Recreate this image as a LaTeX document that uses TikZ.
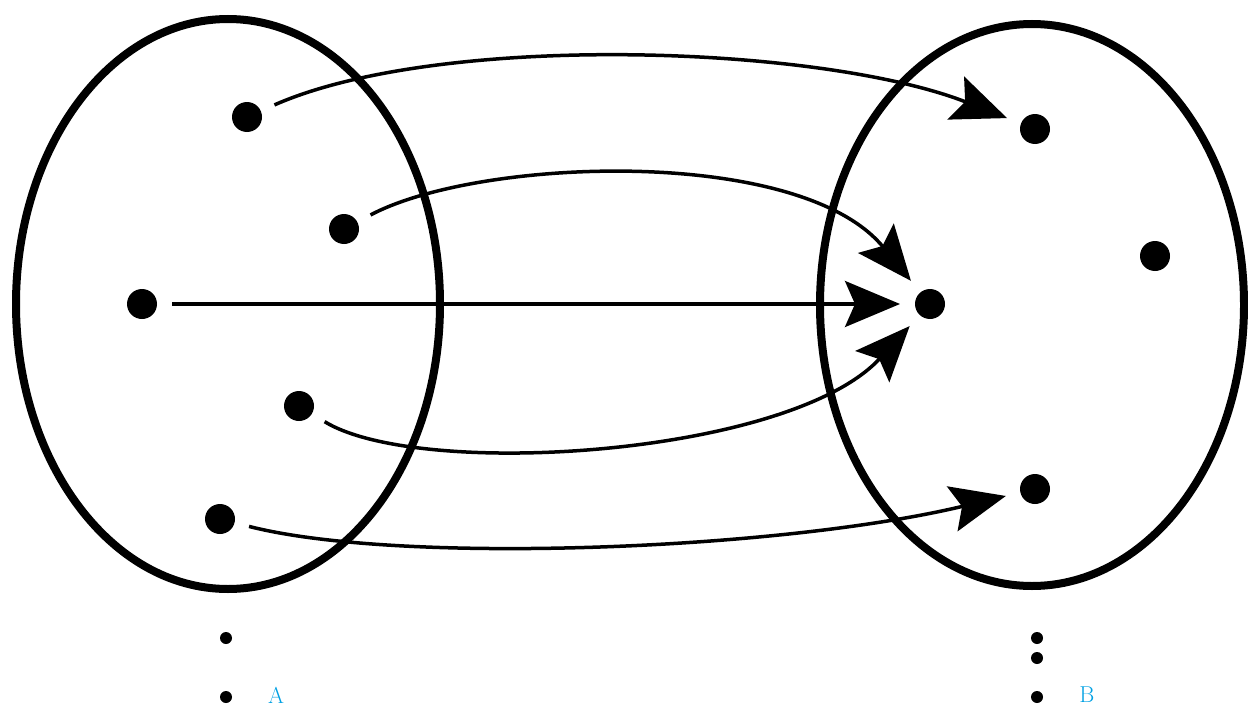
\documentclass[tikz,border=0pt]{standalone}
\usetikzlibrary{arrows.meta}
\definecolor{labcyan}{RGB}{0,160,227}
\begin{document}
\begin{tikzpicture}[x=1pt,y=-1pt,
  dot/.style={circle,fill=black,inner sep=0pt,minimum size=30pt,outer sep=15pt},
  sdot/.style={circle,fill=black,inner sep=0pt,minimum size=12pt},
  setline/.style={line width=8pt},
  map/.style={line width=3.5pt,-{Stealth[length=55pt,width=46pt,inset=10pt]}},
  lab/.style={text=labcyan,font=\fontsize{23}{23}\selectfont,inner sep=0pt}]
\useasboundingbox (0,0) rectangle (1248,717);
% sets
\draw[setline] (228,304) ellipse [x radius=212pt, y radius=285pt];
\draw[setline] (1032,305) ellipse [x radius=212pt, y radius=281pt];
% elements of A
\node[dot] (a1) at (247,117) {};
\node[dot] (a2) at (344,229) {};
\node[dot] (a3) at (142,304) {};
\node[dot] (a4) at (299,406) {};
\node[dot] (a5) at (220,519) {};
% elements of B
\node[dot] (b1) at (1035,129) {};
\node[dot] (b2) at (1155,256) {};
\node[dot] (b3) at (930,304) {};
\node[dot] (b4) at (1035,489) {};
% mappings
\draw[map] (a1) .. controls (440,32) and (820,45) .. (b1);
\draw[map] (a2) .. controls (480,157) and (800,146) .. (b3);
\draw[map] (a3) -- (b3);
\draw[map] (a4) .. controls (420,480) and (790,456) .. (b3);
\draw[map] (a5) .. controls (400,565) and (780,550) .. (b4);
% ellipsis dots and labels
\node[sdot] (ad1) at (226,638) {};
\node[sdot] (ad2) at (226,697) {};
\node[sdot] (bd1) at (1037,638) {};
\node[sdot] (bd2) at (1037,658) {};
\node[sdot] (bd3) at (1037,697) {};
\node[lab] (la) at (276,695) {A};
\node[lab] (lb) at (1087,695) {B};
\end{tikzpicture}
\end{document}
